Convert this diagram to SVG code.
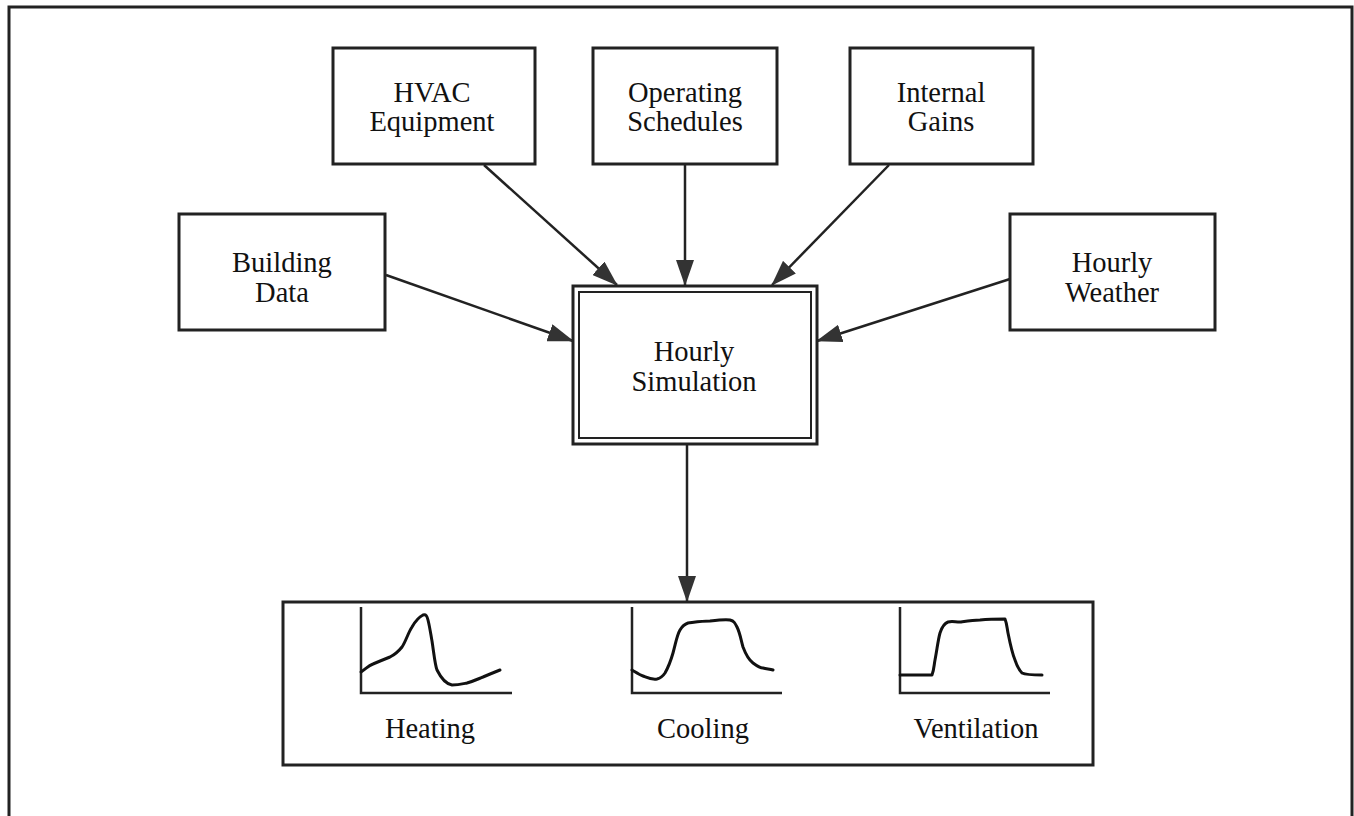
<svg xmlns="http://www.w3.org/2000/svg" width="1354" height="816" viewBox="0 0 1354 816">
<style>
.box{fill:#fff;stroke:#222;stroke-width:3}
.lbl{font-family:"Liberation Serif","DejaVu Serif",serif;font-size:28.5px;fill:#111;text-anchor:middle}
.conn{stroke:#222;stroke-width:2.5;fill:none}
.ax{stroke:#222;stroke-width:2.5;fill:none}
.crv{stroke:#111;stroke-width:3;fill:none;stroke-linejoin:round;stroke-linecap:round}
</style>
<defs>
<marker id="ah" markerWidth="26" markerHeight="18" refX="25" refY="9" orient="auto" markerUnits="userSpaceOnUse">
<path d="M0,0 L26,9 L0,18 Z" fill="#333"/>
</marker>
</defs>
<rect width="1354" height="816" fill="#fff"/>
<path d="M9,816 V7 H1352 V816" fill="none" stroke="#222" stroke-width="3"/>

<g id="connectors">
<line class="conn" x1="484" y1="165" x2="617" y2="285" marker-end="url(#ah)"/>
<line class="conn" x1="685" y1="165" x2="685" y2="285" marker-end="url(#ah)"/>
<line class="conn" x1="889" y1="165" x2="772" y2="285" marker-end="url(#ah)"/>
<line class="conn" x1="386" y1="275" x2="573" y2="341" marker-end="url(#ah)"/>
<line class="conn" x1="1010" y1="279" x2="817" y2="341" marker-end="url(#ah)"/>
<line class="conn" x1="687" y1="444" x2="687" y2="601" marker-end="url(#ah)"/>
</g>

<g id="hvac">
<rect class="box" x="333" y="48" width="202" height="116"/>
<text class="lbl" x="432" y="102">HVAC</text>
<text class="lbl" x="432" y="131">Equipment</text>
</g>
<g id="operating">
<rect class="box" x="593" y="48" width="184" height="116"/>
<text class="lbl" x="685" y="102">Operating</text>
<text class="lbl" x="685" y="131">Schedules</text>
</g>
<g id="internal">
<rect class="box" x="850" y="48" width="183" height="116"/>
<text class="lbl" x="941" y="102">Internal</text>
<text class="lbl" x="941" y="131">Gains</text>
</g>
<g id="building">
<rect class="box" x="179" y="214" width="206" height="116"/>
<text class="lbl" x="282" y="272">Building</text>
<text class="lbl" x="282" y="302">Data</text>
</g>
<g id="weather">
<rect class="box" x="1010" y="214" width="205" height="116"/>
<text class="lbl" x="1112" y="272">Hourly</text>
<text class="lbl" x="1112" y="302">Weather</text>
</g>
<g id="simulation">
<rect class="box" x="573" y="286" width="244" height="158"/>
<rect x="579" y="292" width="232" height="146" fill="none" stroke="#222" stroke-width="2"/>
<text class="lbl" x="694" y="361">Hourly</text>
<text class="lbl" x="694" y="391">Simulation</text>
</g>
<g id="outputs">
<rect class="box" x="283" y="602" width="810" height="163"/>
<g id="heating">
<path class="ax" d="M361,607 V693 H512"/>
<path class="crv" d="M361,672 C367,668 368,666 373,664 C380,661 385,659 390,657 C396,654 398,652 402,647 C406,641 408,633 412,627 C416,620 419,617 423,615 C426,614 427,616 428,620 C430,628 431,636 432,641 C434,654 435,665 437,670 C441,678 446,684 452,685 C458,685 462,684 467,683 C474,681 478,679 483,677 C490,674 495,672 500,670"/>
<text class="lbl" x="430" y="738">Heating</text>
</g>
<g id="cooling">
<path class="ax" d="M632,607 V693 H782"/>
<path class="crv" d="M632,670 C637,673 640,675 643,676 C648,678 652,680 657,679 C661,678 663,676 665,673 C669,666 671,660 673,653 C676,642 677,635 680,630 C683,625 685,624 688,623 C696,622 702,621 710,621 C718,620 726,619 730,620 C734,621 735,623 737,627 C740,633 741,640 743,647 C746,655 749,660 753,663 C757,666 760,668 763,668 C767,669 770,669 773,670"/>
<text class="lbl" x="703" y="738">Cooling</text>
</g>
<g id="ventilation">
<path class="ax" d="M900,607 V693 H1050"/>
<path class="crv" d="M900,675 H932 C934,670 934,665 935,660 C937,650 938,640 940,633 C942,627 945,623 948,622 C952,621 955,622 960,622 C967,621 973,620 980,620 C990,619 998,619 1005,619 C1007,624 1007,628 1008,633 C1010,643 1012,653 1015,660 C1017,666 1019,670 1022,673 C1026,675 1032,675 1042,675"/>
<text class="lbl" x="976" y="738">Ventilation</text>
</g>
</g>
</svg>
